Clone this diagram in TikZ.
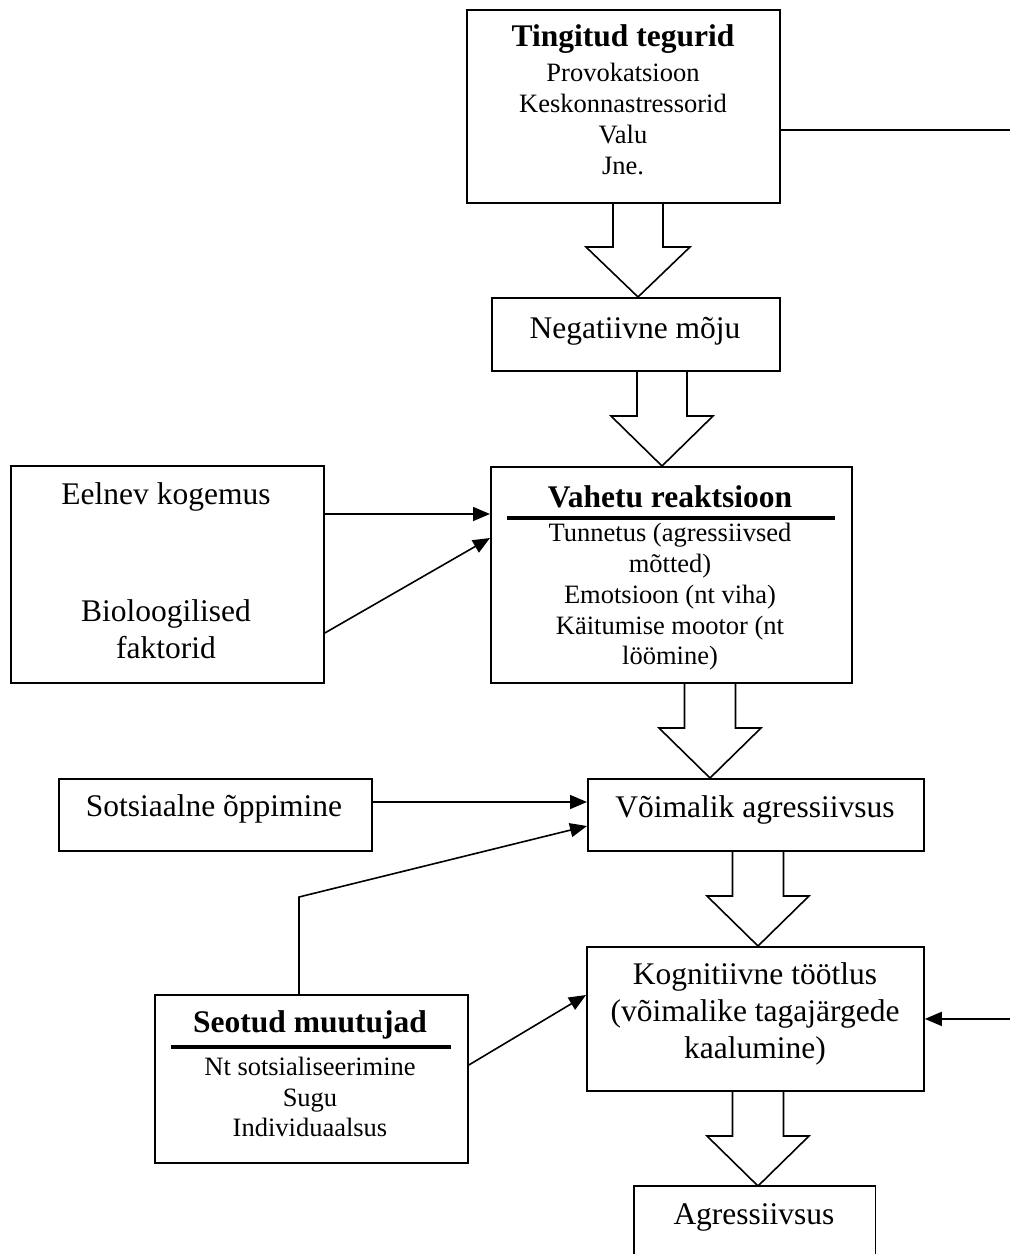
\documentclass[tikz,border=0pt]{standalone}
\usepackage{fontspec}
\setmainfont{Liberation Serif}
\usetikzlibrary{arrows.meta,calc}
\tikzset{
  box/.style={draw, line width=1.8pt, anchor=north west, inner sep=0pt},
  bigtxt/.style={font=\fontsize{31.5}{37}\selectfont, align=center, inner sep=0pt},
  bigbold/.style={font=\fontsize{31.5}{37}\selectfont\bfseries, inner sep=0pt},
  smalltxt/.style={font=\fontsize{26.5}{30.7}\selectfont, align=center, inner sep=0pt},
  conn/.style={line width=1.6pt, -{Triangle[length=17pt,width=14pt]}},
  plainline/.style={line width=1.6pt},
  blockarr/.style={line width=1.6pt, line join=miter},
  rulebar/.style={line width=3.8pt},
}
\newcommand{\blockarrow}[5]{% #1 centre x, #2 shaft half, #3 head half, #4 from node, #5 to node
  \draw[blockarr] let \p1=(#4.south), \p2=(#5.north) in
    (#1pt-#2pt,\y1) -- (#1pt-#2pt,\y2+50pt) -- (#1pt-#3pt,\y2+50pt) -- (#1pt,\y2)
    -- (#1pt+#3pt,\y2+50pt) -- (#1pt+#2pt,\y2+50pt) -- (#1pt+#2pt,\y1);
}
\begin{document}
\begin{tikzpicture}[x=1pt,y=-1pt]
\useasboundingbox (0,0) rectangle (1010,1254);

% boxes
\node[box, minimum width=313pt, minimum height=193pt] (tt) at (466,9) {};
\node[box, minimum width=288pt, minimum height=73pt]  (ng) at (491,297) {};
\node[box, minimum width=361pt, minimum height=216pt] (vr) at (490,466) {};
\node[box, minimum width=313pt, minimum height=217pt] (ee) at (10,465) {};
\node[box, minimum width=336pt, minimum height=72pt]  (vo) at (587,778) {};
\node[box, minimum width=313pt, minimum height=72pt]  (so) at (58,778) {};
\node[box, minimum width=337pt, minimum height=144pt] (kg) at (586,946) {};
\node[box, minimum width=313pt, minimum height=168pt] (se) at (154,994) {};
\node[anchor=north west, inner sep=0pt, minimum width=241pt, minimum height=72pt] (ag) at (634,1186) {};
\draw[line width=1.8pt] (ag.south west) -- (ag.north west) -- (ag.north east) -- (ag.south east);

% texts
\node[bigbold] (tttitle) at (623,39) {Tingitud tegurid};
\node[smalltxt] (ttbody) at (623,119) {Provokatsioon\\Keskonnastressorid\\Valu\\Jne.};
\node[bigtxt] (ngtxt) at (635,331) {Negatiivne mõju};
\node[bigbold] (vrtitle) at (670,497) {Vahetu reaktsioon};
\draw[rulebar] (507,518) -- (835,518);
\node[smalltxt] (vrbody) at (670,597) {Tunnetus (agressiivsed\\mõtted)\\Emotsioon (nt viha)\\Käitumise mootor (nt\\löömine)};
\node[bigtxt] (eetxt1) at (166,497) {Eelnev kogemus};
\node[bigtxt] (eetxt2) at (166,629) {Bioloogilised\\faktorid};
\node[bigtxt] (votxt) at (755,810) {Võimalik agressiivsus};
\node[bigtxt] (sotxt) at (214,809) {Sotsiaalne õppimine};
\node[bigtxt] (kgtxt) at (755,1014) {Kognitiivne töötlus\\(võimalike tagajärgede\\kaalumine)};
\node[bigbold] (setitle) at (310,1025) {Seotud muutujad};
\draw[rulebar] (171,1047) -- (451,1047);
\node[smalltxt] (sebody) at (310,1097) {Nt sotsialiseerimine\\Sugu\\Individuaalsus};
\node[bigtxt] (agtxt) at (754,1217) {Agressiivsus};

% block arrows
\blockarrow{638}{25}{52}{tt}{ng}
\blockarrow{662}{25}{51}{ng}{vr}
\blockarrow{710}{25.5}{51}{vr}{vo}
\blockarrow{758}{25.5}{51}{vo}{kg}
\blockarrow{758}{25.5}{51}{kg}{ag}

% connectors
\coordinate (r1) at (1010,130);
\coordinate (r2) at (kg.east -| r1);
\draw[plainline] ($(tt.north east)+(0,121)$) -- (r1);
\draw[conn] (r2) -- (kg.east);
\draw[conn] ($(ee.north east)+(0,49)$) -- ($(vr.north west)+(0,48)$);
\draw[conn] ($(ee.north east)+(0,168)$) -- ($(vr.north west)+(0,72)$);
\draw[conn] ($(so.north east)+(0,24)$) -- ($(vo.north west)+(0,24)$);
\draw[conn] ($(se.north west)+(145,0)$) -- ++(0,-97) -- ($(vo.north west)+(0,48)$);
\draw[conn] ($(se.north east)+(0,71)$) -- ($(kg.north west)+(0,49)$);
\end{tikzpicture}
\end{document}
